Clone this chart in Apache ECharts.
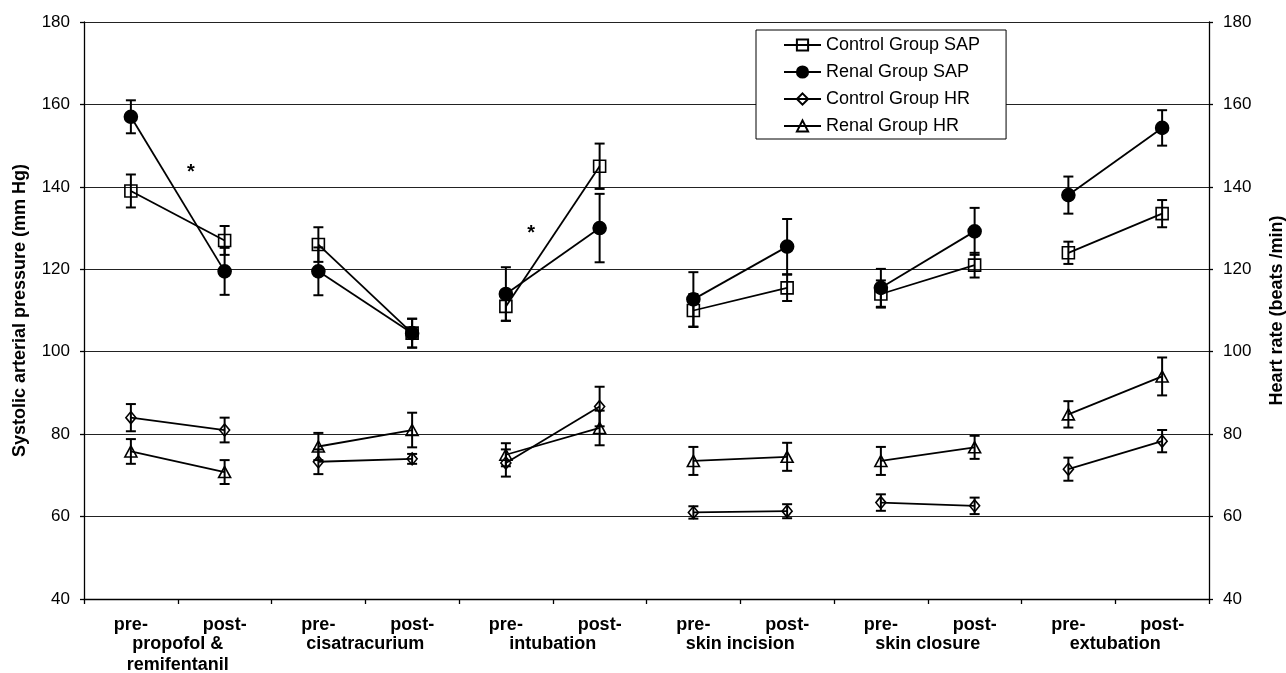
<!DOCTYPE html>
<html>
<head>
<meta charset="utf-8">
<script src="https://cdn.jsdelivr.net/npm/echarts@6/dist/echarts.min.js"></script>
<style>
html,body{margin:0;padding:0;background:#fff;}
#chart{width:1286px;height:673px;}
</style>
</head>
<body>
<div id="chart"></div>
<script>
// ---- data ----
var timeLabels = ['pre-','post-','pre-','post-','pre-','post-','pre-','post-','pre-','post-','pre-','post-'];
var events = ['propofol &\nremifentanil','cisatracurium','intubation','skin incision','skin closure','extubation'];
var yTicks = [40, 180, 20]; // min, max, step

var controlSAP    = [139, 127, 126, 104.5, 111, 145, 110, 115.5, 114, 121, 124, 133.5];
var controlSAPerr = [4, 3.5, 4.2, 3.5, 3.5, 5.5, 4, 3.2, 3.3, 3, 2.7, 3.3];
var renalSAP      = [157, 119.5, 119.5, 104.5, 114, 130, 112.7, 125.5, 115.5, 129.2, 138, 154.3];
var renalSAPerr   = [4, 5.7, 5.8, 3.5, 6.5, 8.3, 6.6, 6.7, 4.6, 5.7, 4.5, 4.3];
var controlHR     = [84, 81, 73.3, 74, 73, 86.7, 61, 61.3, 63.4, 62.6, 71.5, 78.3];
var controlHRerr  = [3.3, 3, 3, 1.2, 3.3, 4.8, 1.5, 1.7, 2, 2, 2.8, 2.7];
var renalHR       = [75.8, 70.8, 77, 81, 75, 81.5, 73.5, 74.5, 73.5, 76.8, 84.8, 94];
var renalHRerr    = [3, 2.9, 3.3, 4.2, 2.8, 4.2, 3.4, 3.4, 3.4, 2.8, 3.2, 4.6];

// significance markers: [position along x (category index units), value]
var asterisks = [[0.64, 143.5], [4.27, 128.8]];

// ---- chart ----
var FONT = '"Liberation Sans", Arial, sans-serif';
var groups = [
  {name:'Control Group SAP', mean:controlSAP, err:controlSAPerr, y:0, symbol:'rect', size:12, fill:'rgba(255,255,255,0)'},
  {name:'Renal Group SAP', mean:renalSAP, err:renalSAPerr, y:0, symbol:'circle', size:13, fill:'#000'},
  {name:'Control Group HR', mean:controlHR, err:controlHRerr, y:1, symbol:'diamond', size:[10,12], fill:'rgba(255,255,255,0)'},
  {name:'Renal Group HR', mean:renalHR, err:renalHRerr, y:1, symbol:'triangle', size:[12,11], fill:'rgba(255,255,255,0)'}
];

function errRender(params, api) {
  var x = api.value(0), lo = api.value(1), hi = api.value(2);
  var pLo = api.coord([x, lo]), pHi = api.coord([x, hi]);
  var hw = 5;
  var st = {stroke:'#000', lineWidth:2};
  return {type:'group', children:[
    {type:'line', shape:{x1:pLo[0], y1:pLo[1], x2:pHi[0], y2:pHi[1]}, style:st},
    {type:'line', shape:{x1:pLo[0]-hw, y1:pLo[1], x2:pLo[0]+hw, y2:pLo[1]}, style:st},
    {type:'line', shape:{x1:pHi[0]-hw, y1:pHi[1], x2:pHi[0]+hw, y2:pHi[1]}, style:st}
  ]};
}

var series = [];
groups.forEach(function(g){
  series.push({
    type:'custom', name:g.name + ' SD', xAxisIndex:0, yAxisIndex:g.y, z:1,
    renderItem: errRender, encode:{x:0, y:[1,2]},
    data: g.mean.map(function(v,i){ return [i, v - g.err[i], v + g.err[i]]; }),
    silent:true
  });
});
groups.forEach(function(g){
  for (var p = 0; p < events.length; p++) {
    var d = g.mean.map(function(v,i){ return (i === 2*p || i === 2*p+1) ? v : null; });
    series.push({
      type:'line', name:g.name, xAxisIndex:0, yAxisIndex:g.y, z:3,
      data:d, connectNulls:false, symbol:g.symbol, symbolSize:g.size, showSymbol:true,
      lineStyle:{color:'#000', width:1.8},
      itemStyle:{color:g.fill, borderColor:'#000', borderWidth:1.6},
      emphasis:{disabled:true}
    });
  }
});
series.push({
  type:'custom', name:'significance', xAxisIndex:2, yAxisIndex:0, z:4,
  encode:{x:0, y:1}, data:asterisks, silent:true,
  renderItem:function(params, api){
    var pt = api.coord([api.value(0), api.value(1)]);
    return {type:'text', x:pt[0], y:pt[1], style:{text:'*', fill:'#000', font:'bold 20px ' + FONT, align:'center', verticalAlign:'middle'}};
  }
});

var chart = echarts.init(document.getElementById('chart'), null, {renderer:'canvas'});
chart.setOption({
  animation:false,
  backgroundColor:'#fff',
  textStyle:{fontFamily:FONT, color:'#000'},
  grid:{left:84, right:77, top:22, bottom:74, containLabel:false, outerBoundsMode:'none'},
  legend:{
    data:groups.map(function(g){return g.name;}),
    orient:'vertical', left:756, top:30,
    backgroundColor:'#fff', borderColor:'#000', borderWidth:1,
    padding:[6, 26, 4, 27], itemGap:9, itemWidth:37, itemHeight:14,
    textStyle:{fontFamily:FONT, fontSize:18, color:'#000', lineHeight:17},
    selectedMode:false
  },
  xAxis:[
    {type:'category', data:timeLabels, gridIndex:0, position:'bottom', boundaryGap:true,
     axisLine:{lineStyle:{color:'#000', width:1.3}},
     axisTick:{show:true, interval:0, length:5, lineStyle:{color:'#000', width:1.3}},
     axisLabel:{interval:0, margin:16, fontFamily:FONT, fontSize:18, fontWeight:'bold', color:'#000', lineHeight:21},
     splitLine:{show:false}},
    {type:'category', data:events, gridIndex:0, position:'bottom', boundaryGap:true,
     axisLine:{show:false}, axisTick:{show:false}, splitLine:{show:false},
     axisLabel:{interval:0, margin:35, fontFamily:FONT, fontSize:18, fontWeight:'bold', color:'#000', lineHeight:21}},
    {type:'value', gridIndex:0, min:-0.5, max:11.5, show:false}
  ],
  yAxis:[
    {type:'value', min:yTicks[0], max:yTicks[1], interval:yTicks[2], position:'left',
     name:'Systolic arterial pressure (mm Hg)', nameLocation:'middle', nameGap:55, nameRotate:90, nameMoveOverlap:false,
     nameTextStyle:{fontFamily:FONT, fontSize:18, fontWeight:'bold', color:'#000'},
     axisLine:{show:true, onZero:false, lineStyle:{color:'#000', width:1.3}},
     axisTick:{show:true, length:4, lineStyle:{color:'#000', width:1.3}},
     axisLabel:{margin:14, fontFamily:FONT, fontSize:17, color:'#000'},
     splitLine:{show:true, lineStyle:{color:'#222', width:1.2}}},
    {type:'value', min:yTicks[0], max:yTicks[1], interval:yTicks[2], position:'right',
     name:'Heart rate (beats /min)', nameLocation:'middle', nameGap:59, nameRotate:90, nameMoveOverlap:false,
     nameTextStyle:{fontFamily:FONT, fontSize:18, fontWeight:'bold', color:'#000'},
     axisLine:{show:true, onZero:false, lineStyle:{color:'#000', width:1.3}},
     axisTick:{show:true, length:4, lineStyle:{color:'#000', width:1.3}},
     axisLabel:{margin:14, fontFamily:FONT, fontSize:17, color:'#000'},
     splitLine:{show:false}}
  ],
  series:series
});
</script>
</body>
</html>
